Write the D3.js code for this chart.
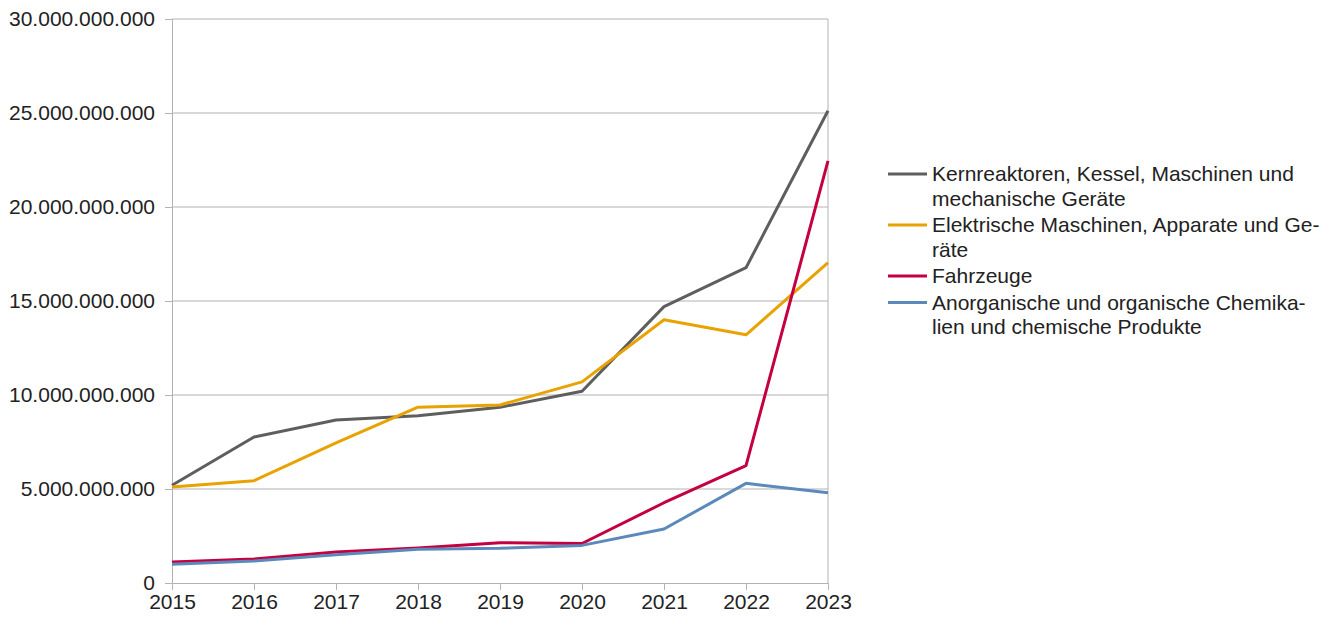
<!DOCTYPE html>
<html><head><meta charset="utf-8">
<script src="https://cdn.jsdelivr.net/npm/d3@7"></script>
<style>body{margin:0;background:#fff}svg{display:block}text{font-family:"Liberation Sans",Arial,sans-serif;fill:#222}</style>
</head><body><svg id="c" width="1341" height="617"></svg>
<script>
const years = [2015,2016,2017,2018,2019,2020,2021,2022,2023];
const kernreaktoren = [5.2e9,7.77e9,8.67e9,8.9e9,9.35e9,10.2e9,14.7e9,16.77e9,25.12e9];
const elektrisch = [5.1e9,5.44e9,7.45e9,9.35e9,9.47e9,10.7e9,14.0e9,13.2e9,17.04e9];
const fahrzeuge = [1.12e9,1.28e9,1.65e9,1.86e9,2.14e9,2.1e9,4.27e9,6.24e9,22.45e9];
const chemikalien = [1.0e9,1.17e9,1.5e9,1.8e9,1.85e9,2.0e9,2.87e9,5.3e9,4.8e9];
const yTicks = [0,5e9,10e9,15e9,20e9,25e9,30e9];
const series = [
  {name:["Kernreaktoren, Kessel, Maschinen und","mechanische Geräte"], values:kernreaktoren, color:"#5e5e5e"},
  {name:["Elektrische Maschinen, Apparate und Ge-","räte"], values:elektrisch, color:"#e8a202"},
  {name:["Fahrzeuge"], values:fahrzeuge, color:"#c5003e"},
  {name:["Anorganische und organische Chemika-","lien und chemische Produkte"], values:chemikalien, color:"#5b89ba"}
];
const svg = d3.select("#c");
const L=172,R=828,T=19,B=583;
const FS = 21;
const x = d3.scaleLinear().domain([2015,2023]).range([L,R]);
const y = d3.scaleLinear().domain([0,30e9]).range([B,T]);
const fmt = v => v===0 ? "0" : d3.format(",")(v).replace(/,/g,".");
// gridlines
svg.append("g").selectAll("line").data(yTicks.filter(d=>d>0)).join("line")
  .attr("x1",L).attr("x2",R).attr("y1",d=>y(d)).attr("y2",d=>y(d))
  .attr("stroke","#b3b3b3").attr("stroke-width",1);
svg.append("line").attr("x1",R).attr("x2",R).attr("y1",T).attr("y2",B).attr("stroke","#b3b3b3");
// y axis
const ya = svg.append("g").attr("transform",`translate(${L},0)`)
  .call(d3.axisLeft(y).tickValues(yTicks).tickFormat(fmt).tickSize(7).tickPadding(10));
ya.select(".domain").attr("stroke","#b3b3b3");
ya.selectAll(".tick line").attr("stroke","#b3b3b3");
ya.selectAll(".tick text").attr("font-size",FS).attr("fill","#222").attr("font-family","Liberation Sans, Arial, sans-serif");
// x axis
const xa = svg.append("g").attr("transform",`translate(0,${B})`)
  .call(d3.axisBottom(x).tickValues(years).tickFormat(d3.format("d")).tickSize(7).tickPadding(4));
xa.select(".domain").attr("stroke","#b3b3b3");
xa.selectAll(".tick line").attr("stroke","#b3b3b3");
xa.selectAll(".tick text").attr("font-size",FS).attr("fill","#222").attr("font-family","Liberation Sans, Arial, sans-serif");
// lines
const line = d3.line().x((d,i)=>x(years[i])).y(d=>y(d));
svg.append("g").selectAll("path").data(series).join("path")
  .attr("d",d=>line(d.values)).attr("fill","none").attr("stroke",d=>d.color)
  .attr("stroke-width",3).attr("stroke-linejoin","round");
// legend
const lg = svg.append("g");
let ly = 174;
series.forEach(s=>{
  lg.append("line").attr("x1",888).attr("x2",927).attr("y1",ly).attr("y2",ly)
    .attr("stroke",s.color).attr("stroke-width",3);
  s.name.forEach((t,j)=>{
    lg.append("text").attr("x",932).attr("y",ly+j*24.5).attr("dy","0.35em")
      .attr("font-size",FS).text(t);
  });
  ly += s.name.length*24.5 + 2;
});
</script></body></html>
